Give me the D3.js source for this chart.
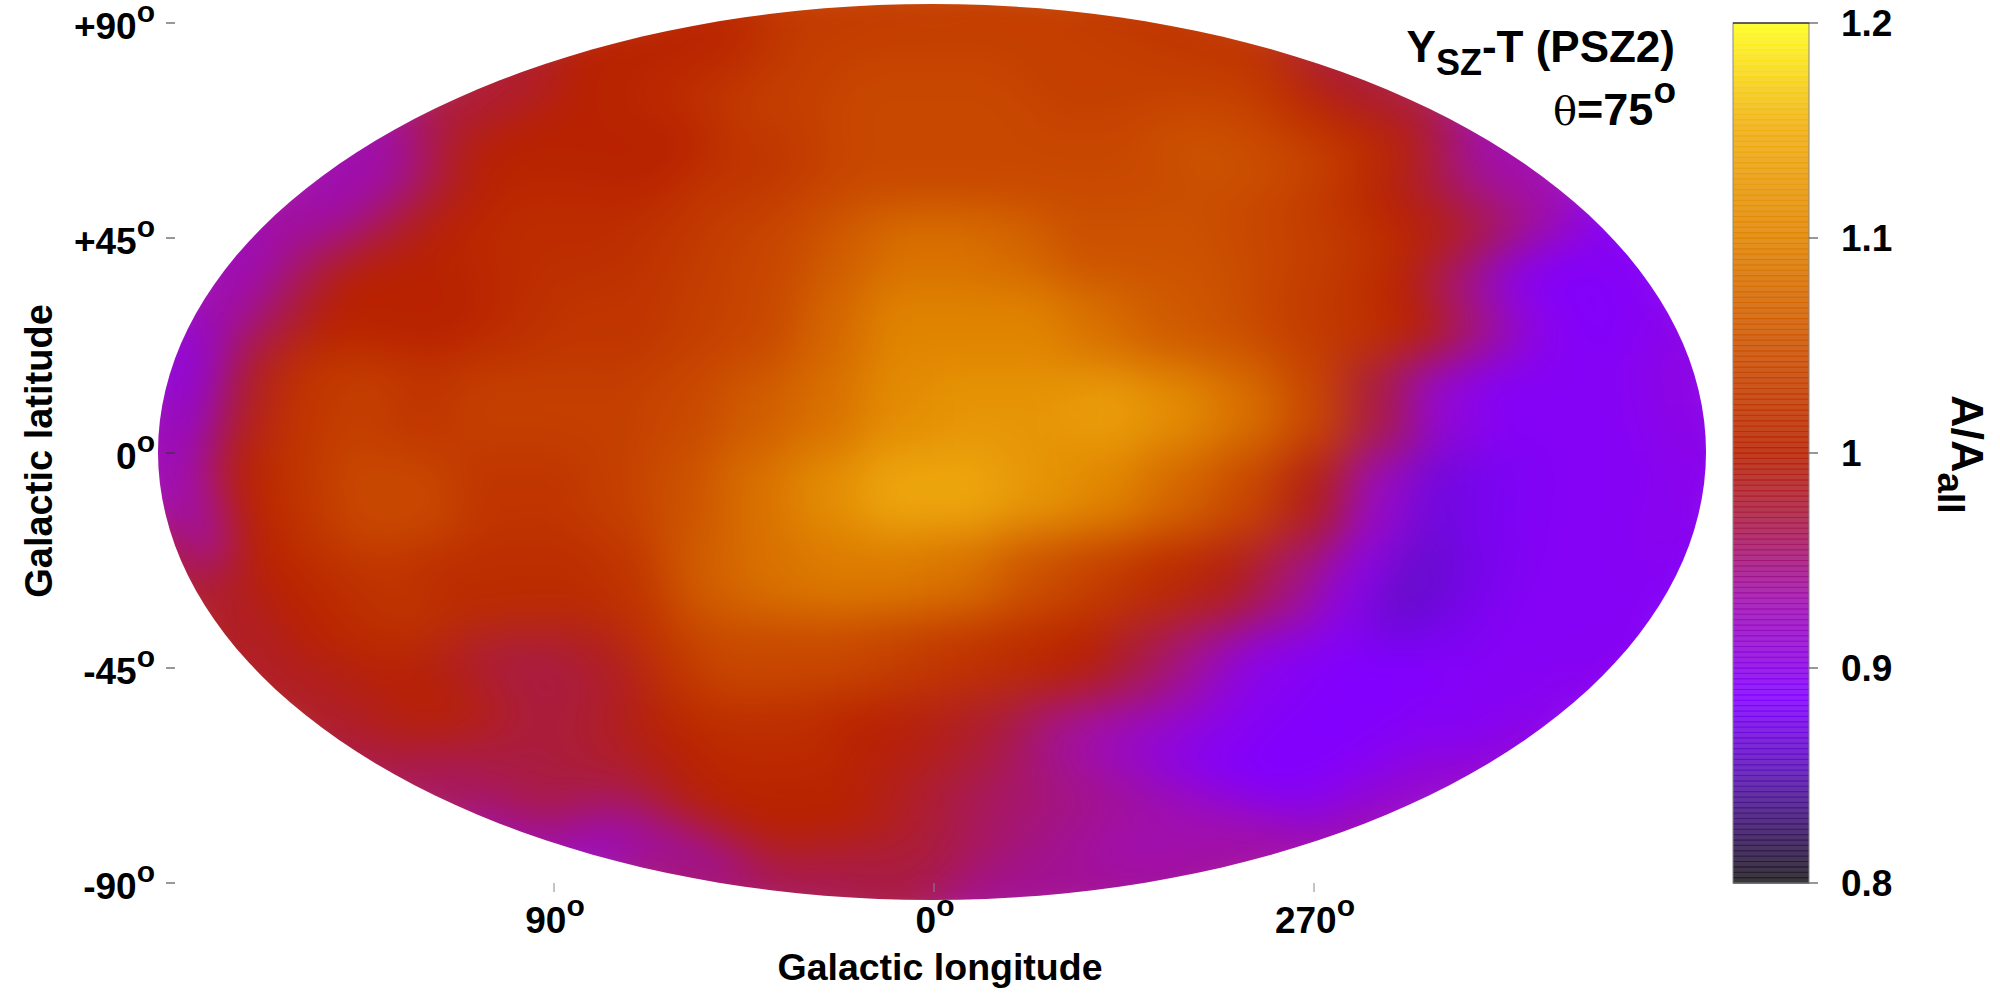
<!DOCTYPE html>
<html>
<head>
<meta charset="utf-8">
<script src="https://cdn.jsdelivr.net/npm/d3@7"></script>
<style>
  html, body { margin: 0; padding: 0; background: #fff; }
  text { font-family: "Liberation Sans", Arial, sans-serif; font-weight: bold; fill: #000; }
</style>
</head>
<body>
<svg id="chart" width="2000" height="1000"></svg>
<script>
// Screen longitude of each column centre, left to right (centre of the map is l=0, left is l=+180)
var cellLon = [-172.5, -157.5, -142.5, -127.5, -112.5, -97.5, -82.5, -67.5, -52.5, -37.5, -22.5, -7.5,
               7.5, 22.5, 37.5, 52.5, 67.5, 82.5, 97.5, 112.5, 127.5, 142.5, 157.5, 172.5];
var cellLat = [82.5, 67.5, 52.5, 37.5, 22.5, 7.5, -7.5, -22.5, -37.5, -52.5, -67.5, -82.5];

// A/A_all, one list per latitude band
var lat82N = [1.02, 1.02, 1.02, 1.03, 1.03, 1.03, 1.03, 1.03, 1.03, 1.03, 1.03, 1.03, 1.03, 1.03, 1.03, 1.03, 1.03, 1.03, 1.03, 1.03, 1.03, 1.03, 1.03, 1.03];
var lat67N = [1.00, 1.00, 1.00, 1.01, 1.01, 1.02, 1.03, 1.03, 1.03, 1.04, 1.04, 1.04, 1.04, 1.04, 1.04, 1.03, 1.03, 1.03, 1.03, 1.03, 1.03, 1.03, 1.02, 1.02];
var lat52N = [0.96, 0.99, 1.00, 1.00, 1.00, 1.00, 1.00, 1.02, 1.02, 1.03, 1.04, 1.04, 1.04, 1.04, 1.04, 1.04, 1.04, 1.05, 1.05, 1.04, 1.03, 1.01, 1.00, 0.97];
var lat37N = [0.925, 0.94, 0.98, 1.00, 1.01, 1.01, 1.01, 1.02, 1.03, 1.04, 1.06, 1.08, 1.08, 1.07, 1.05, 1.05, 1.05, 1.04, 1.03, 1.02, 1.00, 0.98, 0.95, 0.93];
var lat22N = [0.925, 0.965, 1.00, 1.00, 1.00, 1.01, 1.02, 1.02, 1.03, 1.04, 1.07, 1.10, 1.10, 1.10, 1.08, 1.06, 1.05, 1.03, 1.02, 1.00, 0.95, 0.90, 0.885, 0.89];
var lat7N = [0.91, 0.985, 1.02, 1.03, 1.02, 1.03, 1.03, 1.03, 1.04, 1.06, 1.08, 1.11, 1.12, 1.12, 1.13, 1.11, 1.08, 1.04, 0.97, 0.91, 0.89, 0.89, 0.89, 0.90];
var lat7S = [0.93, 1.00, 1.02, 1.04, 1.04, 1.02, 1.02, 1.03, 1.05, 1.08, 1.11, 1.14, 1.14, 1.12, 1.10, 1.07, 1.04, 0.99, 0.92, 0.87, 0.88, 0.89, 0.89, 0.895];
var lat22S = [0.98, 1.00, 1.01, 1.02, 1.01, 1.01, 1.01, 1.02, 1.06, 1.08, 1.09, 1.09, 1.08, 1.05, 1.03, 1.01, 0.99, 0.95, 0.90, 0.86, 0.875, 0.89, 0.89, 0.89];
var lat37S = [0.98, 0.99, 1.00, 0.99, 0.97, 0.97, 0.985, 1.02, 1.04, 1.04, 1.04, 1.03, 1.02, 1.01, 1.00, 0.97, 0.94, 0.90, 0.89, 0.885, 0.885, 0.89, 0.89, 0.895];
var lat52S = [0.955, 0.965, 0.97, 0.97, 0.975, 0.985, 1.00, 1.01, 1.01, 1.01, 1.00, 0.995, 0.985, 0.97, 0.945, 0.93, 0.915, 0.90, 0.89, 0.885, 0.885, 0.89, 0.90, 0.915];
var lat67S = [0.925, 0.92, 0.93, 0.955, 0.985, 1.00, 1.00, 1.00, 1.00, 1.00, 0.99, 0.98, 0.97, 0.96, 0.955, 0.95, 0.945, 0.94, 0.935, 0.93, 0.93, 0.93, 0.93, 0.935];
var lat82S = [0.94, 0.95, 0.96, 0.97, 0.97, 0.97, 0.97, 0.97, 0.97, 0.97, 0.97, 0.97, 0.97, 0.965, 0.96, 0.955, 0.95, 0.945, 0.94, 0.94, 0.94, 0.94, 0.94, 0.94];
var latRows = [lat82N, lat67N, lat52N, lat37N, lat22N, lat7N, lat7S, lat22S, lat37S, lat52S, lat67S, lat82S];

var lonTicks = [90, 0, 270];
var latTicks = [90, 45, 0, -45, -90];
var barTicks = [0.8, 0.9, 1, 1.1, 1.2];

// Palette
var colorStops = [0.8, 0.85, 0.885, 0.93, 0.97, 1.0, 1.05, 1.1, 1.15, 1.2];
var colorValues = ['#1e1a20', '#5a12b4', '#8200ff', '#a00eb0', '#aa1c40', '#b82200', '#cc5200', '#e08400', '#f0ae10', '#ffff20'];
var color = d3.scaleLinear().domain(colorStops).range(colorValues).clamp(true);

var svg = d3.select('#chart');

// Axis scales - the ticks are linear in plot coordinates
var xScale = d3.scaleLinear().domain([-180, 180]).range([174, 1694]);
var yScale = d3.scaleLinear().domain([-90, 90]).range([883, 23]);
var barScale = d3.scaleLinear().domain([0.8, 1.2]).range([883, 23]);

// Hammer projection, squeezed vertically to the plot's ellipse
var mapA = 774, mapB = 448;
function hammerRaw(lambda, phi) {
    var d = Math.sqrt(1 + Math.cos(phi) * Math.cos(lambda / 2));
    return [2 * Math.SQRT2 * Math.cos(phi) * Math.sin(lambda / 2) / d,
            Math.SQRT2 * Math.sin(phi) / d * (mapB / mapA) * 2];
}
var projection = d3.geoProjection(hammerRaw)
    .scale(mapA / (2 * Math.SQRT2))
    .translate([932, 452]);
var line = d3.line();

function cellPath(lon, lat) {
    var w = d3.range(lon - 7.5, lon + 7.51, 2.5);
    var top = w.map(function(u) { return projection([u, lat + 7.5]); });
    var bottom = w.slice().reverse().map(function(u) { return projection([u, lat - 7.5]); });
    return line(top.concat(bottom)) + 'Z';
}

var cells = [];
latRows.forEach(function(row, i) {
    row.forEach(function(v, j) {
        cells.push({ lon: cellLon[j], lat: cellLat[i], value: v });
    });
});

// Blur and clip
var defs = svg.append('defs');
var blur = defs.append('filter').attr('id', 'smooth')
    .attr('filterUnits', 'userSpaceOnUse')
    .attr('x', 0).attr('y', -100).attr('width', 2000).attr('height', 1200)
    .attr('color-interpolation-filters', 'sRGB');
blur.append('feGaussianBlur').attr('stdDeviation', 24);

var outline = d3.range(-90, 90.1, 2).map(function(p) { return projection([180, p]); })
    .concat(d3.range(90, -90.1, -2).map(function(p) { return projection([-180, p]); }));
defs.append('clipPath').attr('id', 'sky').append('path').attr('d', line(outline) + 'Z');

var map = svg.append('g').attr('clip-path', 'url(#sky)')
    .append('g').attr('filter', 'url(#smooth)');

// Wide strokes first so the blur has colour to pull in at the rim
map.selectAll('path.pad').data(cells).enter().append('path')
    .attr('class', 'pad')
    .attr('d', function(d) { return cellPath(d.lon, d.lat); })
    .attr('fill', function(d) { return color(d.value); })
    .attr('stroke', function(d) { return color(d.value); })
    .attr('stroke-width', 90);
map.selectAll('path.cell').data(cells).enter().append('path')
    .attr('class', 'cell')
    .attr('d', function(d) { return cellPath(d.lon, d.lat); })
    .attr('fill', function(d) { return color(d.value); })
    .attr('stroke', function(d) { return color(d.value); })
    .attr('stroke-width', 1);

// Degree sign is a raised "o"
function degree(sel, label) {
    sel.append('tspan').text(label);
    sel.append('tspan').attr('dy', -17).attr('font-size', 30).text('o');
}

// Latitude axis
var latAxis = svg.append('g');
latAxis.selectAll('line').data(latTicks).enter().append('line')
    .attr('x1', 166).attr('x2', 175)
    .attr('y1', function(d) { return yScale(d); })
    .attr('y2', function(d) { return yScale(d); })
    .attr('stroke', '#333').attr('stroke-width', 1);
latAxis.selectAll('text').data(latTicks).enter().append('text')
    .attr('x', 155)
    .attr('y', function(d) { return yScale(d) + 16; })
    .attr('text-anchor', 'end')
    .attr('font-size', 37)
    .each(function(d) {
        var label = d > 0 ? '+' + d : String(d);
        degree(d3.select(this), label);
    });

// Longitude axis
var lonX = { 90: -90, 0: 0, 270: 90 };
var lonAxis = svg.append('g');
lonAxis.selectAll('line').data(lonTicks).enter().append('line')
    .attr('x1', function(d) { return xScale(lonX[d]); })
    .attr('x2', function(d) { return xScale(lonX[d]); })
    .attr('y1', 883).attr('y2', 892)
    .attr('stroke', '#888').attr('stroke-width', 1);
lonAxis.selectAll('text').data(lonTicks).enter().append('text')
    .attr('x', function(d) { return xScale(lonX[d]) + 1; })
    .attr('y', 933)
    .attr('text-anchor', 'middle')
    .attr('font-size', 37)
    .each(function(d) { degree(d3.select(this), String(d)); });

svg.append('text').attr('x', 940).attr('y', 980)
    .attr('text-anchor', 'middle').attr('font-size', 37.5)
    .text('Galactic longitude');
svg.append('text')
    .attr('transform', 'translate(52,451) rotate(-90)')
    .attr('text-anchor', 'middle').attr('font-size', 38)
    .text('Galactic latitude');

// Titles
var title = svg.append('text').attr('x', 1675).attr('y', 62)
    .attr('text-anchor', 'end').attr('font-size', 44);
title.append('tspan').text('Y');
title.append('tspan').attr('dy', 13).attr('font-size', 36).text('SZ');
title.append('tspan').attr('dy', -13).text('-T (PSZ2)');

var title2 = svg.append('text').attr('x', 1676).attr('y', 125)
    .attr('text-anchor', 'end').attr('font-size', 45);
title2.append('tspan').attr('font-family', 'DejaVu Serif').attr('font-weight', 'normal').attr('font-size', 40).text('θ');
title2.append('tspan').text('=75');
title2.append('tspan').attr('dy', -22).attr('font-size', 37).text('o');

// Colour bar
var barSteps = d3.range(0.8, 1.2, 0.0025);
var bar = svg.append('g');
bar.selectAll('rect').data(barSteps).enter().append('rect')
    .attr('x', 1733).attr('width', 76)
    .attr('y', function(d) { return barScale(d + 0.0025); })
    .attr('height', function(d) { return barScale(d) - barScale(d + 0.0025) + 0.5; })
    .attr('fill', function(d) { return color(d); })
    .attr('opacity', 0.88);
bar.selectAll('line.stripe').data(barSteps).enter().append('line')
    .attr('class', 'stripe')
    .attr('x1', 1733).attr('x2', 1809)
    .attr('y1', function(d) { return barScale(d); })
    .attr('y2', function(d) { return barScale(d); })
    .attr('stroke', function(d) { return color(d); })
    .attr('stroke-width', 1);
bar.append('rect').attr('x', 1733).attr('y', 23).attr('width', 76).attr('height', 860)
    .attr('fill', 'none').attr('stroke', '#888').attr('stroke-width', 1);
bar.append('line').attr('x1', 1733).attr('x2', 1809).attr('y1', 23).attr('y2', 23).attr('stroke', '#000');
bar.selectAll('line.tick').data(barTicks).enter().append('line')
    .attr('class', 'tick')
    .attr('x1', 1809).attr('x2', 1818)
    .attr('y1', function(d) { return barScale(d); })
    .attr('y2', function(d) { return barScale(d); })
    .attr('stroke', '#333');
bar.selectAll('text').data(barTicks).enter().append('text')
    .attr('x', 1841)
    .attr('y', function(d) { return barScale(d) + 13; })
    .attr('font-size', 37)
    .text(function(d) { return d === 1 ? '1' : d3.format('.1f')(d); });

var barLabel = svg.append('text')
    .attr('transform', 'translate(1952,395) rotate(90)')
    .attr('font-size', 45);
barLabel.append('tspan').text('A/A');
barLabel.append('tspan').attr('dy', 14).attr('font-size', 37).text('all');
</script>
</body>
</html>
